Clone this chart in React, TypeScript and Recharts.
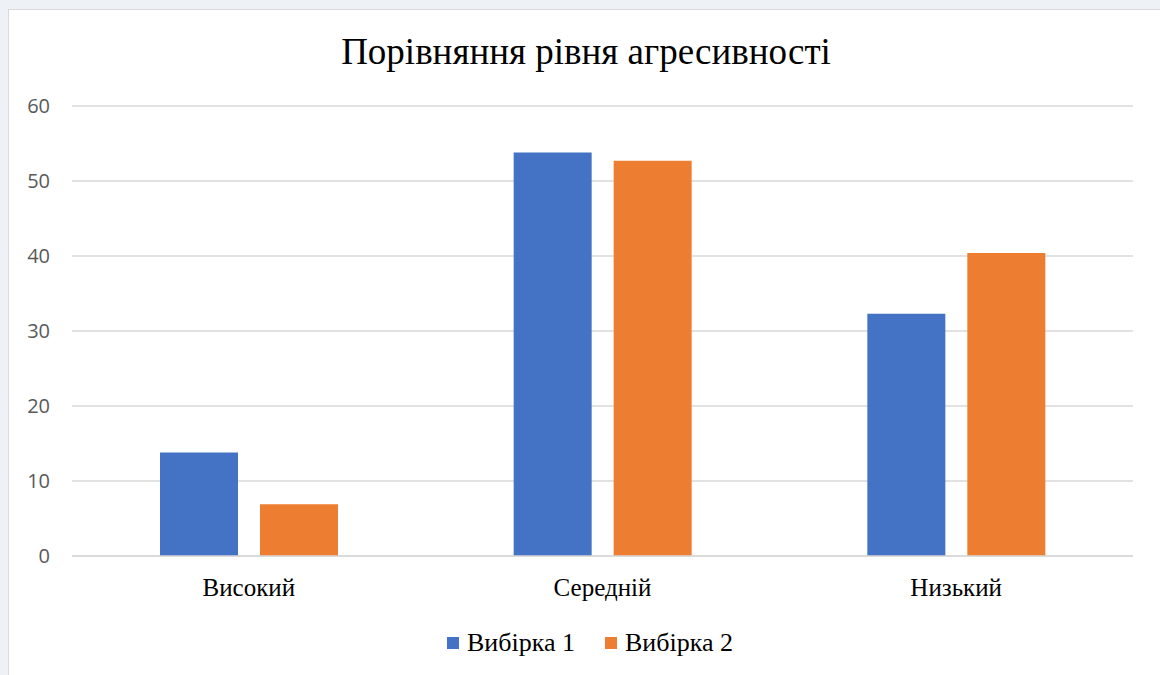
import { Bar, BarChart, CartesianGrid, Legend, XAxis, YAxis } from "recharts";

const CATEGORIES = ["Високий", "Середній", "Низький"];
const SAMPLE_1 = [13.8, 53.8, 32.3];
const SAMPLE_2 = [6.9, 52.7, 40.4];
const Y_TICKS = [0, 10, 20, 30, 40, 50, 60];

const BLUE = "#4472C4";
const ORANGE = "#ED7D31";
const GRID = "#d9d9d9";
const SERIF = "'Liberation Serif', 'Times New Roman', serif";

const data = CATEGORIES.map((name, i) => ({ name, s1: SAMPLE_1[i], s2: SAMPLE_2[i] }));

const LegendBox = () => (
  <div style={{ display: "flex", justifyContent: "center", alignItems: "center", height: 30, fontFamily: SERIF, fontSize: 26, color: "#000" }}>
    {[
      { label: "Вибірка 1", color: BLUE },
      { label: "Вибірка 2", color: ORANGE },
    ].map((it, i) => (
      <span key={it.label} style={{ display: "flex", alignItems: "center", marginLeft: i ? 30 : 0 }}>
        <span style={{ width: 12, height: 12, background: it.color, marginRight: 8, display: "inline-block" }} />
        {it.label}
      </span>
    ))}
  </div>
);

export default function App() {
  return (
    <div style={{ position: "absolute", left: 0, top: 0, width: 1160, height: 675, background: "#eef1f5", overflow: "hidden" }}>
      <div style={{ position: "absolute", left: 8, top: 9, width: 1160, height: 680, background: "#fff", borderLeft: `1px solid ${GRID}`, borderTop: `1px solid ${GRID}` }} />
      <div style={{ position: "absolute", left: 0, top: 0 }}>
        <div style={{ position: "absolute", left: 0, top: 30, width: 1172, textAlign: "center", fontFamily: SERIF, fontSize: 37, color: "#000", zIndex: 1 }}>
          Порівняння рівня агресивності
        </div>
        <BarChart width={1160} height={675} data={data} margin={{ top: 106, right: 27, bottom: 17, left: 12 }} barCategoryGap={88} barGap={22}>
          <CartesianGrid vertical={false} stroke={GRID} strokeWidth={1.5} />
          <XAxis dataKey="name" height={72} axisLine={{ stroke: GRID, strokeWidth: 1.5 }} tickLine={false} tickSize={0} tickMargin={22} tick={{ fill: "#000", fontSize: 25, fontFamily: SERIF }} />
          <YAxis domain={[0, 60]} ticks={Y_TICKS} width={60} axisLine={false} tickLine={false} tickSize={0} tickMargin={22} tick={{ fill: "#595959", fontSize: 20, fontFamily: "'Open Sans', sans-serif" }} />
          <Legend verticalAlign="bottom" content={() => <LegendBox />} wrapperStyle={{ height: 30, left: 0, width: 1180 }} />
          <Bar dataKey="s1" name="Вибірка 1" fill={BLUE} isAnimationActive={false} />
          <Bar dataKey="s2" name="Вибірка 2" fill={ORANGE} isAnimationActive={false} />
        </BarChart>
      </div>
    </div>
  );
}
